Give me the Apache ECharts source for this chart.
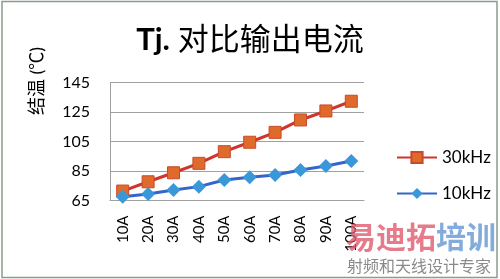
<!DOCTYPE html>
<html>
<head>
<meta charset="utf-8">
<script src="https://cdn.jsdelivr.net/npm/echarts@6/dist/echarts.min.js"></script>
<style>html,body{margin:0;padding:0;background:#fff}#c{width:500px;height:279px}</style>
</head>
<body>
<div id="c"></div>
<script>
var categories = ['10A','20A','30A','40A','50A','60A','70A','80A','90A','100A'];
var s30kHz = [71.4, 77.7, 83.8, 90.2, 98.1, 104.5, 111.2, 119.6, 125.7, 132.3];
var s10kHz = [67.6, 69.4, 72.1, 74.4, 78.9, 80.7, 82.3, 85.7, 88.4, 91.8];
var seriesNames = ['30kHz', '10kHz'];
var yTicks = [65, 85, 105, 125, 145];
var yAxisTitle = '结温 (℃)';

var FONT = "Lato, 'Noto Sans CJK SC', sans-serif";
var chart = echarts.init(document.getElementById('c'), null, {renderer: 'canvas'});
chart.setOption({
  backgroundColor: '#fff',
  animation: false,
  textStyle: {fontFamily: FONT},
  title: {
    text: '{b|Tj.} 对比输出电流',
    left: 'center',
    top: 20,
    textStyle: {
      fontSize: 31, fontWeight: 'normal', color: '#000', fontFamily: FONT,
      rich: {b: {fontSize: 31, fontWeight: 'bold', color: '#000', fontFamily: FONT}}
    }
  },
  grid: {left: 110, right: 136, top: 82.5, bottom: 78.5, containLabel: false},
  legend: {
    orient: 'vertical',
    left: 391,
    top: 144,
    itemWidth: 40,
    itemHeight: 14,
    itemGap: 19,
    data: seriesNames,
    textStyle: {fontSize: 17, color: '#000', fontFamily: FONT}
  },
  xAxis: {
    type: 'category',
    data: categories,
    boundaryGap: true,
    axisLine: {show: true, lineStyle: {color: '#a0a0a0', width: 1}},
    axisTick: {show: false},
    axisLabel: {rotate: 90, margin: 15, fontSize: 15, color: '#000', fontFamily: FONT, interval: 0}
  },
  yAxis: {
    type: 'value',
    min: yTicks[0],
    max: yTicks[yTicks.length - 1],
    interval: 20,
    axisLine: {show: true, lineStyle: {color: '#a0a0a0', width: 1}},
    axisTick: {show: false},
    splitLine: {show: true, lineStyle: {color: '#a0a0a0', width: 1}},
    axisLabel: {margin: 20, fontSize: 16, color: '#000', fontFamily: FONT}
  },
  series: [
    {
      name: seriesNames[0],
      type: 'line',
      data: s30kHz,
      symbol: 'rect',
      symbolSize: 12,
      lineStyle: {color: '#d0342c', width: 3},
      itemStyle: {color: '#e0692c', borderColor: '#c84a2a', borderWidth: 1}
    },
    {
      name: seriesNames[1],
      type: 'line',
      data: s10kHz,
      symbol: 'diamond',
      symbolSize: 14,
      lineStyle: {color: '#3366cc', width: 3},
      itemStyle: {color: '#3a98d8', borderColor: '#3a98d8', borderWidth: 0}
    }
  ],
  graphic: [
    {type: 'rect', shape: {x: 2, y: 1.5, width: 495, height: 276}, style: {fill: 'none', stroke: '#8c9c8c', lineWidth: 1.5}, silent: true},
    {type: 'text', x: 37, y: 81, rotation: Math.PI / 2, style: {text: yAxisTitle, fontSize: 18, fill: '#000', fontFamily: FONT, align: 'center', verticalAlign: 'middle'}},
    {type: 'text', left: 346, top: 222, style: {text: '易迪拓', fontSize: 30, fontWeight: 'bold', fill: 'rgba(222,90,110,0.8)', fontFamily: "'Noto Sans CJK SC', sans-serif"}, z: 100},
    {type: 'text', left: 436, top: 222, style: {text: '培训', fontSize: 30, fontWeight: 'bold', fill: 'rgba(100,150,210,0.8)', fontFamily: "'Noto Sans CJK SC', sans-serif"}, z: 100},
    {type: 'text', left: 347, top: 258, style: {text: '射频和天线设计专家', fontSize: 16, fill: '#8a8a8a', fontFamily: "'Noto Sans CJK SC', serif"}, z: 100}
  ]
});
</script>
</body>
</html>
